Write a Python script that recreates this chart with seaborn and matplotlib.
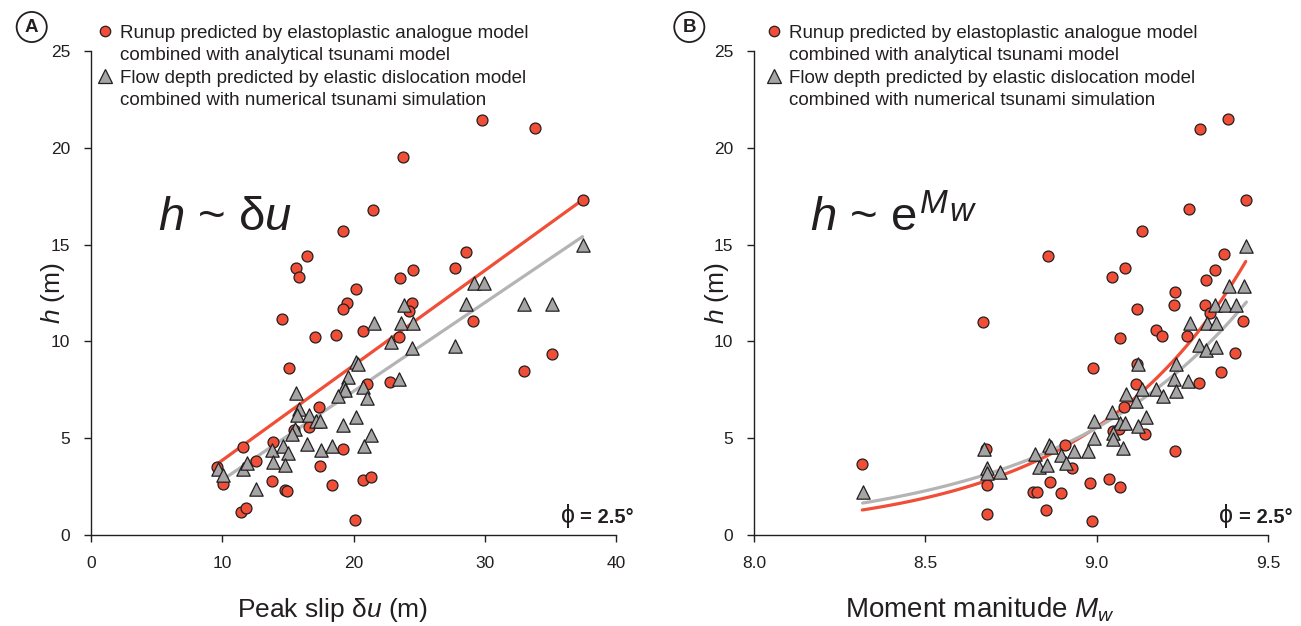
import matplotlib
matplotlib.use('Agg')
import matplotlib.pyplot as plt
from matplotlib.lines import Line2D
import numpy as np
import seaborn as sns

# Panel A: peak slip (m) vs h (m)
slip_runup = [37.45, 29.8, 33.8, 23.75, 21.5, 19.2, 16.45, 15.6, 15.85, 28.55,
              27.7, 24.55, 23.55, 20.2, 24.45, 19.5, 19.2, 24.25, 14.55, 29.1,
              18.7, 20.7, 17.05, 15.1, 21.0, 22.75, 17.35, 16.6, 15.5, 11.6,
              13.9, 12.6, 9.6, 10.05, 19.2, 17.45, 13.8, 14.8, 14.95, 18.4,
              20.7, 21.3, 11.4, 11.8, 20.15, 33.0, 35.1, 23.45]
h_runup_a = [17.3, 21.45, 21.0, 19.5, 16.8, 15.7, 14.4, 13.8, 13.35, 14.6,
             13.8, 13.7, 13.3, 12.7, 12.0, 12.0, 11.65, 11.55, 11.15, 11.05,
             10.35, 10.55, 10.25, 8.65, 7.8, 7.9, 6.6, 5.6, 5.4, 4.55,
             4.8, 3.8, 3.5, 2.65, 4.45, 3.55, 2.8, 2.35, 2.27, 2.56,
             2.84, 3.0, 1.2, 1.42, 0.77, 8.45, 9.35, 10.25]
slip_flow = [37.45, 29.2, 29.95, 23.85, 28.6, 33.0, 35.1, 23.65, 24.55, 22.85,
             24.45, 27.7, 23.45, 21.55, 20.2, 20.35, 19.55, 19.3, 19.35, 20.7,
             18.8, 21.0, 15.6, 15.85, 15.7, 16.6, 17.15, 17.45, 19.2, 20.2,
             15.55, 15.3, 21.35, 16.45, 17.55, 18.4, 20.8, 13.8, 14.6, 15.0,
             13.9, 14.8, 11.55, 11.85, 9.7, 10.05, 12.6]
h_flow_a = [15.0, 13.0, 13.0, 11.9, 11.95, 11.95, 11.95, 10.95, 10.95, 9.95,
            9.65, 9.75, 8.05, 10.95, 8.95, 8.85, 8.15, 7.65, 7.5, 7.65,
            7.2, 7.1, 7.35, 6.5, 6.2, 6.2, 5.9, 5.9, 5.7, 6.1,
            5.5, 5.2, 5.15, 4.7, 4.4, 4.6, 4.6, 4.4, 4.6, 4.25,
            3.75, 3.6, 3.4, 3.7, 3.4, 3.1, 2.4]
# linear trends (slope, intercept) as drawn in panel A
fit_a_runup = (0.49, -1.04)
fit_a_flow = (0.458, -1.74)

# Panel B: moment magnitude vs h (m)
mw_runup = [9.384, 9.302, 9.435, 9.268, 9.131, 8.857, 9.372, 9.084, 9.046, 9.346,
            9.320, 9.229, 9.225, 9.316, 9.119, 9.427, 9.330, 9.174, 9.192, 9.067,
            9.263, 9.405, 9.362, 9.298, 8.989, 9.118, 9.114, 9.079, 9.048, 9.065,
            9.140, 9.230, 8.669, 8.316, 8.678, 8.680, 8.681, 8.865, 8.814, 8.826,
            8.895, 8.851, 8.907, 8.929, 8.980, 8.985, 9.037, 9.067]
h_runup_b = [21.47, 20.99, 17.3, 16.83, 15.69, 14.4, 14.49, 13.8, 13.33, 13.71,
             13.19, 12.57, 11.9, 11.9, 11.66, 11.07, 11.47, 10.57, 10.3, 10.16,
             10.3, 9.38, 8.4, 7.86, 8.64, 8.81, 7.81, 6.59, 5.38, 5.47,
             5.21, 4.36, 10.98, 3.67, 4.43, 2.59, 1.09, 2.76, 2.21, 2.21,
             2.16, 1.29, 4.66, 3.45, 2.67, 0.7, 2.9, 2.5]
mw_flow = [9.437, 9.386, 9.430, 9.344, 9.374, 9.408, 9.271, 9.322, 9.349, 9.300,
           9.320, 9.349, 9.232, 9.120, 9.227, 9.266, 9.232, 9.174, 9.193, 9.133,
           9.087, 9.116, 9.046, 9.143, 8.991, 9.067, 9.082, 9.120, 9.048, 9.048,
           8.991, 9.077, 8.975, 8.317, 8.671, 8.680, 8.681, 8.717, 8.821, 8.860,
           8.868, 8.831, 8.856, 8.897, 8.934, 8.910]
h_flow_b = [14.95, 12.88, 12.88, 11.9, 11.9, 11.9, 10.95, 10.95, 10.95, 9.83,
            9.53, 9.71, 8.85, 8.81, 8.07, 7.93, 7.45, 7.55, 7.19, 7.54,
            7.28, 6.9, 6.35, 6.09, 5.91, 5.81, 5.81, 5.65, 5.26, 4.95,
            5.0, 4.49, 4.36, 2.24, 4.43, 3.45, 3.19, 3.27, 4.17, 4.66,
            4.57, 3.53, 3.59, 4.14, 4.36, 3.71]

legend_lines = ['Runup predicted by elastoplastic analogue model',
                'combined with analytical tsunami model',
                'Flow depth predicted by elastic dislocation model',
                'combined with numerical tsunami simulation']

RED = '#f04e37'
GREY = '#a5a5a5'
LINE_GREY = '#b4b4b4'
DARK = '#231f20'

sns.set_style('ticks')
plt.rcParams['font.family'] = ['Liberation Sans', 'DejaVu Sans']
plt.rcParams['mathtext.fontset'] = 'custom'
plt.rcParams['mathtext.rm'] = 'Liberation Sans'
plt.rcParams['mathtext.it'] = 'Liberation Sans:italic'
plt.rcParams['mathtext.bf'] = 'Liberation Sans:bold'
plt.rcParams['text.color'] = DARK
plt.rcParams['axes.labelcolor'] = DARK


def exp_fit(x, y):
    # least squares on log(h): h = a * exp(b * Mw)
    b, ln_a = np.polyfit(x, np.log(y), 1)
    xs = np.linspace(min(x), max(x), 100)
    return xs, np.exp(ln_a + b * xs)


def lin_line(x, fit):
    xs = np.array([min(x), max(x)])
    return xs, fit[0] * xs + fit[1]


def style_axes(ax):
    sns.despine(ax=ax)
    for side in ['left', 'bottom']:
        ax.spines[side].set_color(DARK)
        ax.spines[side].set_linewidth(1.0)
    ax.tick_params(direction='out', length=5, width=1, color=DARK,
                   labelcolor=DARK, labelsize=12.5, pad=10)
    ax.set_ylim(0, 25)
    ax.set_yticks([0, 5, 10, 15, 20, 25])


def add_legend(ax, x0):
    handles = [
        Line2D([], [], ls='none', marker='o', mfc=RED, mec=DARK, ms=7.5, mew=0.9),
        Line2D([], [], ls='none', marker=''),
        Line2D([], [], ls='none', marker='^', mfc=GREY, mec=DARK, ms=9.5, mew=0.9),
        Line2D([], [], ls='none', marker=''),
    ]
    ax.legend(handles, legend_lines, loc='upper left', bbox_to_anchor=(x0, 1.054),
              frameon=False, fontsize=13.5, handlelength=1.0, handletextpad=0.3,
              labelspacing=0.28, borderpad=0, borderaxespad=0)


def add_phi(ax, x_right):
    t = ax.text(x_right, 0.025, '= 2.5°', transform=ax.transAxes, fontsize=14.5,
                fontweight='bold', ha='right', va='baseline')
    ax.annotate(r'$\mathrm{\phi}$', xy=(0, 0.025), xycoords=(t, ax.transAxes),
                xytext=(-4, 0), textcoords='offset points', fontsize=18,
                ha='right', va='baseline')


fig = plt.figure(figsize=(13.01, 6.26), dpi=100)
ax_a = fig.add_axes([91 / 1301, 91 / 626, 525 / 1301, 484 / 626])
ax_b = fig.add_axes([754 / 1301, 91 / 626, 514 / 1301, 484 / 626])

# ---- Panel A ----
xs, ys = lin_line(slip_runup, fit_a_runup)
sns.lineplot(x=xs, y=ys, ax=ax_a, color=RED, lw=2.3, zorder=2)
xs, ys = lin_line(slip_flow, fit_a_flow)
sns.lineplot(x=xs, y=ys, ax=ax_a, color=LINE_GREY, lw=2.3, zorder=2)
sns.scatterplot(x=slip_runup, y=h_runup_a, ax=ax_a, marker='o', s=62, color=RED,
                edgecolor=DARK, linewidth=0.9, zorder=3)
sns.scatterplot(x=slip_flow, y=h_flow_a, ax=ax_a, marker='^', s=92, color=GREY,
                edgecolor=DARK, linewidth=0.9, zorder=4)
style_axes(ax_a)
ax_a.set_xlim(0, 40)
ax_a.set_xticks([0, 10, 20, 30, 40])
ax_a.set_xlabel(r'Peak slip $\mathrm{\delta}u$ (m)', fontsize=19)
ax_a.set_ylabel(r'$h$ (m)', fontsize=19)
ax_a.xaxis.set_label_coords(0.46, -0.126)
ax_a.yaxis.set_label_coords(-0.046, 0.5)
ax_a.text(0.128, 0.63, r'$h$ ~ $\mathrm{\delta}u$', transform=ax_a.transAxes,
          fontsize=34, ha='left', va='baseline')
add_phi(ax_a, 1.034)
add_legend(ax_a, 0.0095)

# ---- Panel B ----
xs, ys = exp_fit(mw_runup, h_runup_b)
sns.lineplot(x=xs, y=ys, ax=ax_b, color=RED, lw=2.3, zorder=2)
xs, ys = exp_fit(mw_flow, h_flow_b)
sns.lineplot(x=xs, y=ys, ax=ax_b, color=LINE_GREY, lw=2.3, zorder=2)
sns.scatterplot(x=mw_runup, y=h_runup_b, ax=ax_b, marker='o', s=62, color=RED,
                edgecolor=DARK, linewidth=0.9, zorder=3)
sns.scatterplot(x=mw_flow, y=h_flow_b, ax=ax_b, marker='^', s=92, color=GREY,
                edgecolor=DARK, linewidth=0.9, zorder=4)
style_axes(ax_b)
ax_b.set_xlim(8.0, 9.5)
ax_b.set_xticks([8.0, 8.5, 9.0, 9.5])
ax_b.set_xticklabels(['8.0', '8.5', '9.0', '9.5'])
ax_b.set_xlabel(r'Moment manitude $M_w$', fontsize=20)
ax_b.set_ylabel(r'$h$ (m)', fontsize=19)
ax_b.xaxis.set_label_coords(0.44, -0.126)
ax_b.yaxis.set_label_coords(-0.044, 0.5)
t = ax_b.text(0.109, 0.63, r'$h$ ~ e', transform=ax_b.transAxes,
              fontsize=34, ha='left', va='baseline')
m = ax_b.annotate(r'$M$', xy=(1, 0.665), xycoords=(t, ax_b.transAxes),
                  xytext=(2, 0), textcoords='offset points', fontsize=24,
                  ha='left', va='baseline')
ax_b.annotate(r'$w$', xy=(1, 0.649), xycoords=(m, ax_b.transAxes),
              xytext=(0, 0), textcoords='offset points', fontsize=24,
              ha='left', va='baseline')
add_phi(ax_b, 1.047)
add_legend(ax_b, 0.021)

# panel letters
for label, xp in [('A', 31.7), ('B', 689.3)]:
    fig.text(xp / 1301, 1 - 27 / 626, label, ha='center', va='center',
             fontsize=13.5, fontweight='bold',
             bbox=dict(boxstyle='circle,pad=0.35', fc='white', ec=DARK, lw=1.3))

fig.savefig('out.png', dpi=100)
